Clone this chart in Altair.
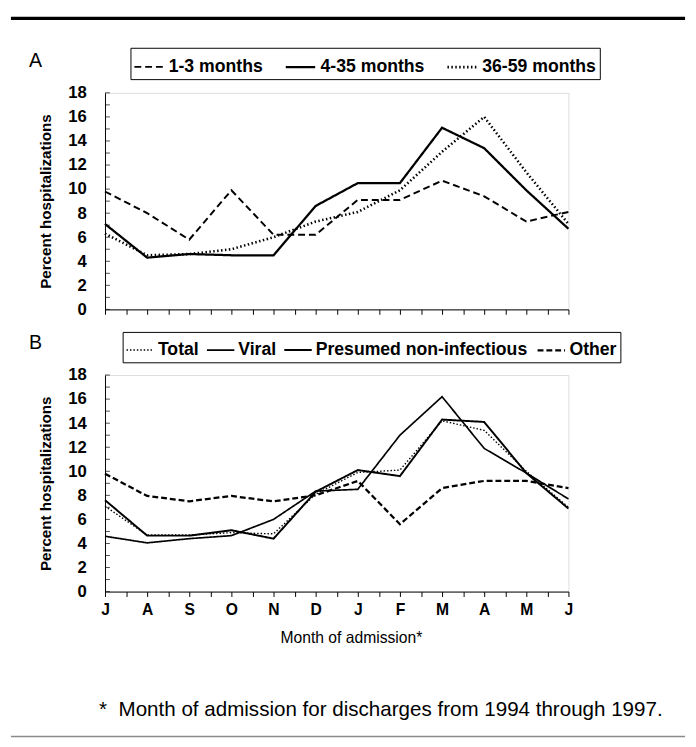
import json
import altair as alt
import pandas as pd

# ---------------- data ----------------
MONTHS = ["J", "A", "S", "O", "N", "D", "J", "F", "M", "A", "M", "J"]

AGE_SERIES = ["1-3 months", "4-35 months", "36-59 months"]
AGE_1_3 = [9.8, 8.0, 5.8, 9.9, 6.2, 6.2, 9.1, 9.1, 10.7, 9.4, 7.3, 8.1]
AGE_4_35 = [7.1, 4.3, 4.6, 4.5, 4.5, 8.6, 10.5, 10.5, 15.1, 13.4, 9.9, 6.7]
AGE_36_59 = [6.3, 4.5, 4.6, 5.0, 6.0, 7.3, 8.1, 9.9, 13.1, 16.0, 11.4, 7.1]

CAUSE_SERIES = ["Total", "Viral", "Presumed non-infectious", "Other"]
TOTAL = [7.1, 4.7, 4.7, 4.9, 4.8, 8.1, 9.9, 10.1, 14.2, 13.4, 10.0, 7.0]
VIRAL = [4.6, 4.05, 4.4, 4.65, 6.0, 8.35, 8.5, 13.0, 16.2, 11.9, 9.85, 7.7]
NONINF = [7.6, 4.65, 4.65, 5.1, 4.4, 8.3, 10.1, 9.6, 14.3, 14.1, 9.85, 6.9]
OTHER = [9.8, 7.95, 7.5, 7.95, 7.5, 8.0, 9.2, 5.6, 8.6, 9.2, 9.2, 8.6]

Y_TICKS = [0, 2, 4, 6, 8, 10, 12, 14, 16, 18]
Y_MINOR = list(range(0, 19))
X_TICKS = [i / 2 for i in range(0, 23)]

Y_TITLE = "Percent hospitalizations"
X_TITLE = "Month of admission*"
FOOTNOTE = "*\u00a0\u00a0Month of admission for discharges from 1994 through 1997."

FONT = "Liberation Sans"
W, H = 473, 221


def long_df(series_names, series_values):
    rows = []
    for name, vals in zip(series_names, series_values):
        for i, v in enumerate(vals):
            rows.append({"idx": i, "series": name, "value": v})
    return pd.DataFrame(rows)


df_a = long_df(AGE_SERIES, [AGE_1_3, AGE_4_35, AGE_36_59])
df_b = long_df(CAUSE_SERIES, [TOTAL, VIRAL, NONINF, OTHER])
df_minor = pd.DataFrame({"value": Y_MINOR})
one = pd.DataFrame({"t": ["x"]})

label_expr = "datum.value % 1 == 0 ? " + json.dumps(MONTHS) + "[datum.value] : ''"


def y_axis():
    return alt.Axis(
        values=Y_TICKS, ticks=False, domainColor="black", labelFont=FONT,
        labelFontSize=17, labelFontWeight="bold", labelColor="black",
        labelPadding=19, grid=False, title=Y_TITLE, titleFont=FONT,
        titleFontSize=15.5, titleFontWeight="bold", titleColor="black",
        titlePadding=15,
    )


def panel(df, series, dashes, widths, leg_x, leg_y, leg_sym, leg_pad, leg_off, show_x_labels):
    legend = alt.Legend(
        orient="none", legendX=leg_x, legendY=leg_y, direction="horizontal",
        title=None, symbolType="stroke", symbolSize=leg_sym,
        symbolStrokeColor="black", labelFont=FONT, labelFontSize=18,
        labelFontWeight="bold", labelColor="black", labelLimit=400,
        strokeColor="black", fillColor="white", padding=3,
        columnPadding=leg_pad, labelOffset=leg_off,
    )
    x_axis = alt.Axis(
        values=X_TICKS, tickSize=5, tickColor="black", domainColor="black",
        labels=show_x_labels, labelExpr=label_expr, labelFont=FONT,
        labelFontSize=16, labelFontWeight="bold", labelColor="black",
        labelPadding=5, grid=False, labelFlush=False, labelOverlap=False,
    )
    yscale = alt.Scale(domain=[0, 18], nice=False)
    lines = alt.Chart(df).mark_line(color="black", strokeCap="butt").encode(
        x=alt.X("idx:Q", scale=alt.Scale(domain=[0, 11], nice=False), axis=x_axis, title=None),
        y=alt.Y("value:Q", scale=yscale, axis=y_axis()),
        strokeDash=alt.StrokeDash("series:N", scale=alt.Scale(domain=series, range=dashes), legend=legend),
        strokeWidth=alt.StrokeWidth("series:N", scale=alt.Scale(domain=series, range=widths), legend=legend),
    )
    minor = alt.Chart(df_minor).mark_tick(orient="horizontal", color="black", thickness=1, size=5).encode(
        y=alt.Y("value:Q", scale=yscale, axis=y_axis()),
        x=alt.value(2.5),
    )
    return lines, minor


def label_text(txt, x, y, size, weight="normal", align="center"):
    return alt.Chart(pd.DataFrame({"t": [txt]})).mark_text(
        font=FONT, fontSize=size, fontWeight=weight, color="black",
        align=align, baseline="middle",
    ).encode(text="t:N", x=alt.value(x), y=alt.value(y))


lines_a, minor_a = panel(
    df_a, AGE_SERIES, [[7, 4], [1, 0], [1.5, 2.5]], [2.0, 2.6, 1.3],
    26, -46, 900, 17, 4, False,
)
top_rule = alt.Chart(one).mark_rule(color="black", strokeWidth=3.5).encode(
    x=alt.value(-96), x2=alt.value(592), y=alt.value(-76)
)
panel_a = alt.layer(
    lines_a, minor_a, label_text("A", -71, -32, 20), top_rule
).properties(width=W, height=H)

lines_b, minor_b = panel(
    df_b, CAUSE_SERIES, [[1.5, 2], [1, 0], [1, 0], [6, 3]], [1.4, 2.3, 1.4, 1.5],
    18, -44, 784, 4, 3, True,
)
bottom_rule = alt.Chart(one).mark_rule(color="#8a8a8a", strokeWidth=1.5).encode(
    x=alt.value(-96), x2=alt.value(592), y=alt.value(369)
)
panel_b = alt.layer(
    lines_b, minor_b,
    label_text("B", -71, -33, 20),
    label_text(X_TITLE, W / 2 + 15, H + 47, 16),
    label_text(FOOTNOTE, -6, 342, 21, align="left"),
    bottom_rule,
).properties(width=W, height=H)

chart = alt.vconcat(
    panel_a, panel_b, spacing=67, bounds="flush",
    padding={"left": 0, "top": 0, "right": 0, "bottom": 0},
).resolve_scale(
    strokeDash="independent", strokeWidth="independent"
).resolve_legend(
    strokeDash="independent", strokeWidth="independent"
).configure_view(stroke=None).configure(background="white")

chart.save("out.html", embed_options={"renderer": "svg", "actions": False})
